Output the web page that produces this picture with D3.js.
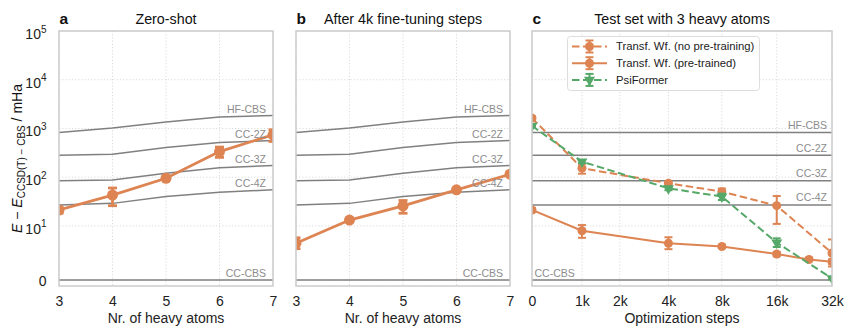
<!DOCTYPE html>
<html>
<head>
<meta charset="utf-8">
<script src="https://cdn.jsdelivr.net/npm/d3@7"></script>
<style>
body { margin: 0; background: #fff; }
text { font-family: "Liberation Sans", Arial, sans-serif; }
</style>
</head>
<body>
<svg id="chart" width="844" height="327"></svg>
<script>
// ---- data ----
var nHeavy = [3, 4, 5, 6, 7];
var refNames = ["HF-CBS", "CC-2Z", "CC-3Z", "CC-4Z", "CC-CBS"];
var refHF = [824, 1016, 1350, 1710, 1840];
var refCC2Z = [283, 297, 405, 514, 565];
var refCC3Z = [84, 88, 121, 157, 173];
var refCC4Z = [27, 29, 40, 49, 55];
var refCBS = [0, 0, 0, 0, 0];

var zeroShot = [21.2, 43, 95, 335, 740];
var zeroShotErr = [3, 17, 6, 80, 200];
var fineTuned = [6.8, 13.2, 25.7, 55, 115];
var fineTunedErr = [1, 1, 7.5, 3, 8];

var steps = [0, 1000, 4000, 8000, 16000, 32000];
var stepsPre = [0, 1000, 4000, 8000, 16000, 24000, 32000];
var noPretrain = [1630, 153, 75, 50.5, 26, 5];
var noPretrainErr = [150, 35, 8, 8, 15, 2.5];
var pretrained = [21.2, 9.1, 6.8, 6.2, 4.8, 3.8, 3.4];
var pretrainedErr = [2, 1.3, 1.1, 0.3, 0.4, 0.3, 0.4];
var psiFormer = [1130, 209, 59, 40, 6.9, 0.3];
var psiFormerErr = [50, 15, 5, 6, 0.8, 0.2];

var yTicks = [0, 10, 100, 1000, 10000, 100000];
var stepTicks = [0, 1000, 2000, 4000, 8000, 16000, 32000];
var stepLabels = ["0", "1k", "2k", "4k", "8k", "16k", "32k"];

var legendNames = ["Transf. Wf. (no pre-training)", "Transf. Wf. (pre-trained)", "PsiFormer"];

// ---- scales ----
var orange = "#dd8452", green = "#55a868", refGray = "#808080";
var plotTop = 31, plotBottom = 286;

// symlog like matplotlib (linthresh 10, linscale 1)
var linthresh = 10, linscale = 1 / (1 - 1 / 10);
function symT(v) {
  var a = Math.abs(v);
  return a <= linthresh ? v / linthresh * linscale : Math.sign(v) * (linscale + Math.log10(a / linthresh));
}
function wrapScale(lin, fwd, dom) {
  var s = function(v) { return lin(fwd(v)); };
  s.range = function() { return lin.range(); };
  s.domain = function() { return dom; };
  s.copy = function() { return wrapScale(lin.copy(), fwd, dom); };
  return s;
}
var y = wrapScale(d3.scaleLinear().domain([symT(-1.1), symT(1e5)]).range([plotBottom, plotTop]), symT, [-1.1, 1e5]);

// asinh-like x scale for the optimization steps
var aw = 1500;
function asT(v) { return Math.asinh(v / aw); }
var xSteps = wrapScale(d3.scaleLinear().domain([0, asT(32000)]).range([532, 832]), asT, [0, 32000]);

var svg = d3.select("#chart");
svg.append("rect").attr("width", 844).attr("height", 327).attr("fill", "#fff");

var panels = [
  { id: "a", title: "Zero-shot", x: d3.scaleLinear().domain([3, 7]).range([59, 273]),
    ticks: nHeavy, labels: nHeavy.map(String), xlabel: "Nr. of heavy atoms" },
  { id: "b", title: "After 4k fine-tuning steps", x: d3.scaleLinear().domain([3, 7]).range([296, 510]),
    ticks: nHeavy, labels: nHeavy.map(String), xlabel: "Nr. of heavy atoms" },
  { id: "c", title: "Test set with 3 heavy atoms", x: xSteps,
    ticks: stepTicks, labels: stepLabels, xlabel: "Optimization steps" }
];

var refs = [refHF, refCC2Z, refCC3Z, refCC4Z, refCBS];

function drawSeries(g, xs, vals, errs, xs_scale, color, dashed, marker, lw, r, cap) {
  var eb = g.append("g");
  vals.forEach(function(v, i) {
    var xp = xs_scale(xs[i]);
    var lo = y(v - errs[i]), hi = y(v + errs[i]);
    eb.append("line").attr("x1", xp).attr("x2", xp).attr("y1", lo).attr("y2", hi)
      .attr("stroke", color).attr("stroke-width", lw);
    [lo, hi].forEach(function(yy) {
      eb.append("line").attr("x1", xp - cap).attr("x2", xp + cap).attr("y1", yy).attr("y2", yy)
        .attr("stroke", color).attr("stroke-width", lw);
    });
  });
  var line = d3.line().x(function(d, i) { return xs_scale(xs[i]); }).y(function(d) { return y(d); });
  g.append("path").datum(vals).attr("d", line).attr("fill", "none")
    .attr("stroke", color).attr("stroke-width", lw)
    .attr("stroke-dasharray", dashed ? "7.5,3.5" : null);
  vals.forEach(function(v, i) {
    drawMarker(g, xs_scale(xs[i]), y(v), marker, color, r);
  });
}

function drawMarker(g, cx, cy, marker, color, r) {
  if (marker === "tri") {
    g.append("path").attr("d", d3.symbol().type(d3.symbolTriangle).size(r * r * 2.6)())
      .attr("transform", "translate(" + cx + "," + cy + ") rotate(180)").attr("fill", color);
  } else {
    g.append("circle").attr("cx", cx).attr("cy", cy).attr("r", r).attr("fill", color);
  }
}

panels.forEach(function(p) {
  var x0 = p.x.range()[0], x1 = p.x.range()[1];
  var g = svg.append("g");

  g.append("clipPath").attr("id", "clip-" + p.id).append("rect")
    .attr("x", x0).attr("y", plotTop).attr("width", x1 - x0).attr("height", plotBottom - plotTop);

  // grid
  var grid = g.append("g").attr("stroke", "#d6d6d6").attr("stroke-width", 0.9).attr("stroke-dasharray", "1.2,2");
  p.ticks.forEach(function(t) {
    grid.append("line").attr("x1", p.x(t)).attr("x2", p.x(t)).attr("y1", plotTop).attr("y2", plotBottom);
  });
  yTicks.forEach(function(t) {
    grid.append("line").attr("x1", x0).attr("x2", x1).attr("y1", y(t)).attr("y2", y(t));
  });

  var plot = g.append("g").attr("clip-path", "url(#clip-" + p.id + ")");

  // reference levels
  refs.forEach(function(ref, k) {
    var pts = p.id === "c" ? [[0, ref[0]], [32000, ref[0]]] : nHeavy.map(function(n, i) { return [n, ref[i]]; });
    plot.append("path").datum(pts)
      .attr("d", d3.line().x(function(d) { return p.x(d[0]); }).y(function(d) { return y(d[1]); }))
      .attr("fill", "none").attr("stroke", refGray).attr("stroke-width", 1.5);
  });
  refs.forEach(function(ref, k) {
    var t = g.append("text").attr("font-size", 10.5).attr("fill", "#8c8c8c").text(refNames[k]);
    if (p.id === "c") {
      if (k === 4) {
        t.attr("x", x0 + 2.5).attr("y", y(ref[0]) - 3.5).attr("text-anchor", "start");
      } else {
        t.attr("x", x1 - 5).attr("y", y(ref[0]) - 3.5).attr("text-anchor", "end");
      }
    } else {
      t.attr("x", x1 - 7).attr("y", y(ref[ref.length - 1]) - 3).attr("text-anchor", "end");
    }
  });

  // data
  if (p.id === "a") {
    drawSeries(plot, nHeavy, zeroShot, zeroShotErr, p.x, orange, false, "circle", 2.8, 5.5, 4.5);
  } else if (p.id === "b") {
    drawSeries(plot, nHeavy, fineTuned, fineTunedErr, p.x, orange, false, "circle", 2.8, 5.5, 4.5);
  } else {
    drawSeries(plot, steps, noPretrain, noPretrainErr, p.x, orange, true, "circle", 2, 4.5, 4);
    drawSeries(plot, stepsPre, pretrained, pretrainedErr, p.x, orange, false, "circle", 2, 4.5, 4);
    drawSeries(plot, steps, psiFormer, psiFormerErr, p.x, green, true, "tri", 2, 4.5, 4);
  }

  // frame
  g.append("rect").attr("x", x0).attr("y", plotTop).attr("width", x1 - x0).attr("height", plotBottom - plotTop)
    .attr("fill", "none").attr("stroke", "#cccccc").attr("stroke-width", 1.5);

  // x axis
  var xAxis = d3.axisBottom(p.x).tickValues(p.ticks)
    .tickFormat(function(d, i) { return p.labels[i]; })
    .tickSize(0).tickPadding(10.5);
  var gx = g.append("g").attr("transform", "translate(0," + plotBottom + ")").call(xAxis);
  gx.select(".domain").remove();
  gx.selectAll("text").attr("font-size", 14).attr("fill", "#222").style("font-family", "Liberation Sans, Arial, sans-serif");

  g.append("text").attr("x", (x0 + x1) / 2).attr("y", 323).attr("text-anchor", "middle")
    .attr("font-size", 14).attr("fill", "#222").text(p.xlabel);

  // title and panel letter
  g.append("text").attr("x", (x0 + x1) / 2).attr("y", 24.3).attr("text-anchor", "middle")
    .attr("font-size", 14.3).attr("fill", "#111").text(p.title);
  g.append("text").attr("x", x0 + 0.5).attr("y", 24.3).attr("font-size", 15.5).attr("font-weight", "bold")
    .attr("fill", "#111").text(p.id);

  // y axis only on the first panel
  if (p.id === "a") {
    var yAxis = d3.axisLeft(y).tickValues(yTicks).tickSize(0).tickPadding(12.5).tickFormat(function() { return ""; });
    var gy = g.append("g").attr("transform", "translate(" + x0 + ",0)").call(yAxis);
    gy.select(".domain").remove();
    gy.selectAll("text").each(function(d) {
      var t = d3.select(this).attr("font-size", 14).attr("fill", "#222")
        .style("font-family", "Liberation Sans, Arial, sans-serif");
      if (d === 0) {
        t.attr("dy", 5).text("0");
      } else {
        t.attr("dy", 7.5);
        t.append("tspan").text("10");
        t.append("tspan").attr("font-size", 10).attr("dy", -6.5).text(Math.round(Math.log10(d)));
      }
    });

    var yl = svg.append("text").attr("transform", "translate(22," + (plotTop + plotBottom) / 2 + ") rotate(-90)")
      .attr("text-anchor", "middle").attr("font-size", 14).attr("fill", "#111");
    yl.append("tspan").attr("font-style", "italic").text("E");
    yl.append("tspan").text(" \u2212 ");
    yl.append("tspan").attr("font-style", "italic").text("E");
    yl.append("tspan").attr("font-size", 10).attr("dy", 3).text("CCSD(T) \u2212 CBS");
    yl.append("tspan").attr("dy", -3).text(" / mHa");
  }

  // legend
  if (p.id === "c") {
    var lg = g.append("g");
    lg.append("rect").attr("x", 567.5).attr("y", 36.5).attr("width", 192).attr("height", 54).attr("rx", 3)
      .attr("fill", "#fff").attr("fill-opacity", 0.9).attr("stroke", "#dddddd").attr("stroke-width", 1);
    var specs = [
      { color: orange, dashed: true, marker: "circle" },
      { color: orange, dashed: false, marker: "circle" },
      { color: green, dashed: true, marker: "tri" }
    ];
    legendNames.forEach(function(name, i) {
      var yy = 46.5 + i * 16.7, s = specs[i];
      lg.append("line").attr("x1", 572).attr("x2", 607).attr("y1", yy).attr("y2", yy)
        .attr("stroke", s.color).attr("stroke-width", 2).attr("stroke-dasharray", s.dashed ? "7.5,3.5" : null);
      lg.append("line").attr("x1", 589.5).attr("x2", 589.5).attr("y1", yy - 6).attr("y2", yy + 6)
        .attr("stroke", s.color).attr("stroke-width", 2);
      [yy - 6, yy + 6].forEach(function(cy) {
        lg.append("line").attr("x1", 585.5).attr("x2", 593.5).attr("y1", cy).attr("y2", cy)
          .attr("stroke", s.color).attr("stroke-width", 2);
      });
      drawMarker(lg, 589.5, yy, s.marker, s.color, 4.5);
      lg.append("text").attr("x", 616).attr("y", yy).attr("dy", "0.35em").attr("font-size", 11.3)
        .attr("fill", "#222").text(name);
    });
  }
});
</script>
</body>
</html>
